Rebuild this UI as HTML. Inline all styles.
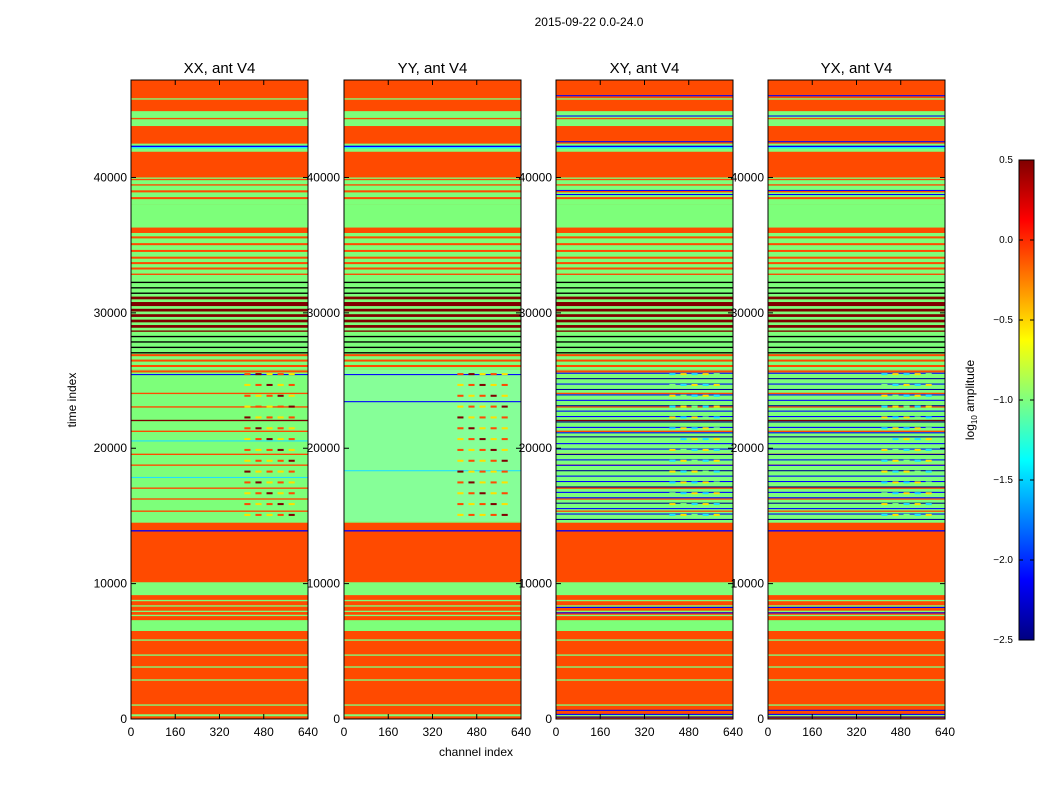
<!DOCTYPE html>
<html><head><meta charset="utf-8"><style>
body{margin:0;background:#fff;font-family:"Liberation Sans",sans-serif}
svg{display:block}
text{font-family:"Liberation Sans",sans-serif}
</style></head><body>
<svg id="c" width="1050" height="800" xmlns="http://www.w3.org/2000/svg">
<defs><linearGradient id="jet" x1="0" y1="1" x2="0" y2="0">
<stop offset="0" stop-color="#000080"/><stop offset="0.125" stop-color="#0000ff"/><stop offset="0.375" stop-color="#00ffff"/><stop offset="0.625" stop-color="#ffff00"/><stop offset="0.875" stop-color="#ff0000"/><stop offset="1" stop-color="#800000"/></linearGradient></defs>
<text x="589" y="26" font-size="12" text-anchor="middle">2015-09-22 0.0-24.0</text>
<text x="476" y="756" font-size="12" text-anchor="middle">channel index</text>
<text transform="translate(76,400) rotate(-90)" font-size="12" text-anchor="middle">time index</text>
</svg>
<script>
const titles=["XX, ant V4","YY, ant V4","XY, ant V4","YX, ant V4"];
const xTicks=[0,160,320,480,640];
const yTicks=[0,10000,20000,30000,40000];
const cbTicks=[0.5,0.0,-0.5,-1.0,-1.5,-2.0,-2.5];
const C={O:"#ff4a00",G:"#7dff7a",L:"#86ff98",R:"#800000",K:"#000000",B:"#0000ff",C:"#20e0ff",Y:"#ffe000",D:"#000090"};
const bandsCommon=[[0,47200,"O"],[9150,10100,"G"],[6500,7300,"G"],[5780,5880,"G"],[4670,4770,"G"],[3790,3890,"G"],[2830,2930,"G"],[980,1080,"G"],[200,350,"G"],
[7600,7700,"G"],[7900,8000,"G"],[8300,8400,"G"],[8700,8800,"G"],
[14500,25800,"G"],[25800,35900,"G"],[36300,38000,"G"],[38000,40000,"G"],[41900,42500,"G"],[43800,44900,"G"],[45750,45850,"G"],
[44300,44400,"O"],[38400,38550,"O"],[38900,39050,"O"],[39400,39500,"O"],[39800,39900,"O"],
[35500,35650,"O"],[35000,35150,"O"],[34500,34650,"O"],[34000,34150,"O"],[33600,33750,"O"],[33200,33350,"O"],[32800,32900,"O"],
[26800,26950,"O"],[26400,26550,"O"],[26000,26150,"O"],[25600,25750,"O"],
[32200,32300,"K"],[31800,31900,"K"],[31400,31500,"K"],[28200,28300,"K"],[27800,27900,"K"],[27400,27500,"K"],[27000,27100,"K"],
[31000,31200,"R"],[30500,30800,"R"],[30100,30300,"R"],[29700,29900,"R"],[29300,29500,"R"],[28900,29100,"R"],[28600,28700,"R"],
[24000,24100,"O"],[23000,23100,"O"],[21200,21300,"O"],[19500,19600,"O"],[18700,18800,"O"],[17000,17100,"O"],[16200,16300,"O"],[15300,15400,"O"],[14300,14400,"O"],
[22000,22100,"R"],[13850,13950,"B"],[42250,42350,"B"],[42150,42250,"C"]];
const bandsXX=[[25400,25480,"B"],[20500,20580,"C"],[17800,17880,"C"]];
const bandsYY=[[14600,25800,"L"],[25400,25480,"B"],[23400,23480,"B"],[18300,18380,"C"]];
const bandsCross=[[46000,46080,"B"],[44500,44580,"B"],[42600,42680,"B"],[39000,39080,"B"],[38700,38780,"B"],
[25500,25580,"B"],[25100,25180,"D"],[24700,24780,"B"],[24300,24380,"D"],[23900,23980,"B"],[23500,23580,"B"],[23100,23180,"D"],[22700,22780,"B"],[22300,22380,"B"],[21900,21980,"D"],[21500,21580,"B"],[21100,21180,"B"],[20800,20880,"D"],[20300,20380,"B"],[19900,19980,"B"],[19500,19580,"D"],[19100,19180,"B"],[18700,18780,"B"],[18300,18380,"D"],[17900,17980,"B"],[17500,17580,"B"],[17100,17180,"D"],[16700,16780,"B"],[16300,16380,"B"],[15900,15980,"D"],[15500,15580,"B"],[15100,15180,"B"],[14700,14780,"D"],
[8200,8280,"B"],[7800,7880,"B"],[600,680,"B"],[300,380,"B"],[100,180,"D"]];
const patchTimes=[15000,15800,16600,17400,18200,19000,19800,20600,21400,22200,23000,23800,24600,25400];
const patchCh=[410,450,490,530,570];
const patchColXX=["Y","O","Y","O","R"];
const patchColCross=["C","Y","G","C","Y"];
const svg=document.getElementById('c');
const NS="http://www.w3.org/2000/svg";
const lefts=[131,344,556,768],W=177,TOP=80,BOT=719,TMAX=47200;
function mk(tag,attrs,parent){const e=document.createElementNS(NS,tag);for(const k in attrs)e.setAttribute(k,attrs[k]);(parent||svg).appendChild(e);return e;}
titles.forEach((title,p)=>{
 const L=lefts[p];
 const xs=ch=>L+ch/640*W;
 const ys=t=>BOT-(t/TMAX)*(BOT-TOP);
 const g=mk('g',{});
 
 
 let bands=bandsCommon.concat(p==0?bandsXX:p==1?bandsYY:bandsCross);
 bands.forEach(b=>{const y0=ys(b[1]),y1=ys(b[0]);const r=mk('rect',{x:L,y:y0,width:W,height:Math.max(1,y1-y0),fill:C[b[2]]},g);
  });
 const pc=p<2?patchColXX:patchColCross;
 patchTimes.forEach((t,i)=>patchCh.forEach((ch,j)=>{const r=mk('rect',{x:xs(ch),y:ys(t+150),width:xs(ch+22)-xs(ch),height:ys(t)-ys(t+150),fill:C[pc[(i+j)%pc.length]]},g);
  }));
 mk('rect',{x:L,y:TOP,width:W,height:BOT-TOP,fill:'none',stroke:'#000','stroke-width':1},g);
 const t=mk('text',{x:L+W/2,y:TOP-7,'font-size':15,'text-anchor':'middle'},g);t.textContent=title;
 
 xTicks.forEach(v=>{const x=xs(v);mk('line',{x1:x,x2:x,y1:BOT,y2:BOT-5,stroke:'#000'},g);mk('line',{x1:x,x2:x,y1:TOP,y2:TOP+5,stroke:'#000'},g);
  const tx=mk('text',{x:x,y:BOT+17,'font-size':12,'text-anchor':'middle'},g);tx.textContent=v;
  });
 yTicks.forEach(v=>{const y=ys(v);mk('line',{x1:L,x2:L+5,y1:y,y2:y,stroke:'#000'},g);mk('line',{x1:L+W,x2:L+W-5,y1:y,y2:y,stroke:'#000'},g);
  const tx=mk('text',{x:L-4,y:y+4,'font-size':12,'text-anchor':'end'},g);tx.textContent=v;
  });
});
const cb=mk('rect',{x:1019,y:160,width:15,height:480,fill:'url(#jet)',stroke:'#000'});

const cy=v=>160+(0.5-v)/3*480;
cbTicks.forEach(v=>{const y=cy(v);mk('line',{x1:1019,x2:1023,y1:y,y2:y,stroke:'#000'});mk('line',{x1:1034,x2:1030,y1:y,y2:y,stroke:'#000'});
 const tx=mk('text',{x:1013,y:y+3,'font-size':10,'text-anchor':'end'});tx.textContent=v.toFixed(1).replace('-','\u2212');
 });
const cl=mk('text',{transform:'translate(974,400) rotate(-90)','font-size':12,'text-anchor':'middle'});
cl.innerHTML='log<tspan font-size="8" dy="3">10</tspan><tspan dy="-3"> amplitude</tspan>';

</script>
</body></html>
